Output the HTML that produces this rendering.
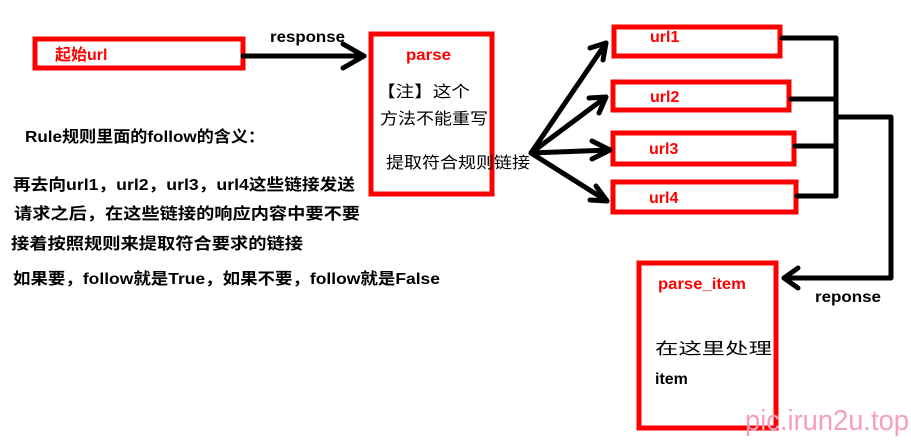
<!DOCTYPE html>
<html><head><meta charset="utf-8"><style>
body{margin:0;background:#fff}
svg text{font-family:"Liberation Sans","Noto Sans CJK SC",sans-serif}
</style></head><body>
<svg width="911" height="438" xmlns="http://www.w3.org/2000/svg">
<g fill="none" stroke="#f00" stroke-width="5">
<rect x="35" y="39" width="208" height="29"/>
<rect x="371" y="34" width="121" height="160"/>
<rect x="614" y="27" width="166" height="29"/>
<rect x="613" y="82" width="176" height="28"/>
<rect x="613" y="133" width="181" height="31"/>
<rect x="613" y="182" width="183" height="30"/>
<rect x="639" y="263" width="137" height="165"/>
</g>
<g stroke="#000" stroke-width="5" fill="none" stroke-linecap="round" stroke-linejoin="round">
<line x1="243" y1="56" x2="364" y2="56"/>
<polyline points="343,44 364,56 343,68"/>
<line x1="531" y1="153" x2="606" y2="43"/>
<polyline points="590,48 606,43 603,60"/>
<line x1="531" y1="153" x2="606" y2="97"/>
<polyline points="589,98 606,97 599,113"/>
<line x1="531" y1="153" x2="610" y2="150"/>
<polyline points="592,141 610,150 592,159"/>
<line x1="531" y1="153" x2="607" y2="201"/>
<polyline points="596,186 607,201 590,200"/>
<polyline points="782,38 836,38 836,196"/>
<line x1="791" y1="99" x2="836" y2="99"/>
<line x1="795" y1="146" x2="836" y2="146"/>
<polyline points="797,196 836,196"/>
<polyline points="836,117 891,117 891,278 784,278"/>
<polyline points="798,268 784,278 798,288"/>
</g>
<g font-weight="bold" font-size="16">
<text x="55" y="60" fill="#f00">起始url</text>
<text x="270" y="42" fill="#000" textLength="75" lengthAdjust="spacingAndGlyphs">response</text>
<text x="406" y="60" fill="#f00" textLength="45" lengthAdjust="spacingAndGlyphs">parse</text>
<text x="650" y="42" fill="#f00">url1</text>
<text x="650" y="102" fill="#f00">url2</text>
<text x="649" y="154" fill="#f00">url3</text>
<text x="649" y="203" fill="#f00">url4</text>
<text x="658" y="289" fill="#f00" textLength="88" lengthAdjust="spacingAndGlyphs">parse_item</text>
<text x="815" y="302" fill="#000" textLength="66" lengthAdjust="spacingAndGlyphs">reponse</text>
<text x="655" y="384" fill="#000">item</text>
<text x="25" y="142" fill="#000" textLength="240" lengthAdjust="spacingAndGlyphs">Rule规则里面的follow的含义：</text>
<text x="13" y="190" fill="#000" textLength="342" lengthAdjust="spacingAndGlyphs">再去向url1，url2，url3，url4这些链接发送</text>
<text x="14" y="219" fill="#000" textLength="346" lengthAdjust="spacingAndGlyphs">请求之后，在这些链接的响应内容中要不要</text>
<text x="11" y="249" fill="#000" textLength="292" lengthAdjust="spacingAndGlyphs">接着按照规则来提取符合要求的链接</text>
<text x="13" y="284" fill="#000" textLength="427" lengthAdjust="spacingAndGlyphs">如果要，follow就是True，如果不要，follow就是False</text>
</g>
<g font-size="16" fill="#000">
<text x="377" y="97" textLength="93" lengthAdjust="spacingAndGlyphs">【注】这个</text>
<text x="380" y="124" textLength="108" lengthAdjust="spacingAndGlyphs">方法不能重写</text>
<text x="386" y="168" textLength="144" lengthAdjust="spacingAndGlyphs">提取符合规则链接</text>
<text x="655" y="354" textLength="117" lengthAdjust="spacingAndGlyphs">在这里处理</text>
</g>
<text x="745" y="430" font-size="29" fill="#f4a0b8" textLength="164" lengthAdjust="spacingAndGlyphs">pic.irun2u.top</text>
</svg>
</body></html>
